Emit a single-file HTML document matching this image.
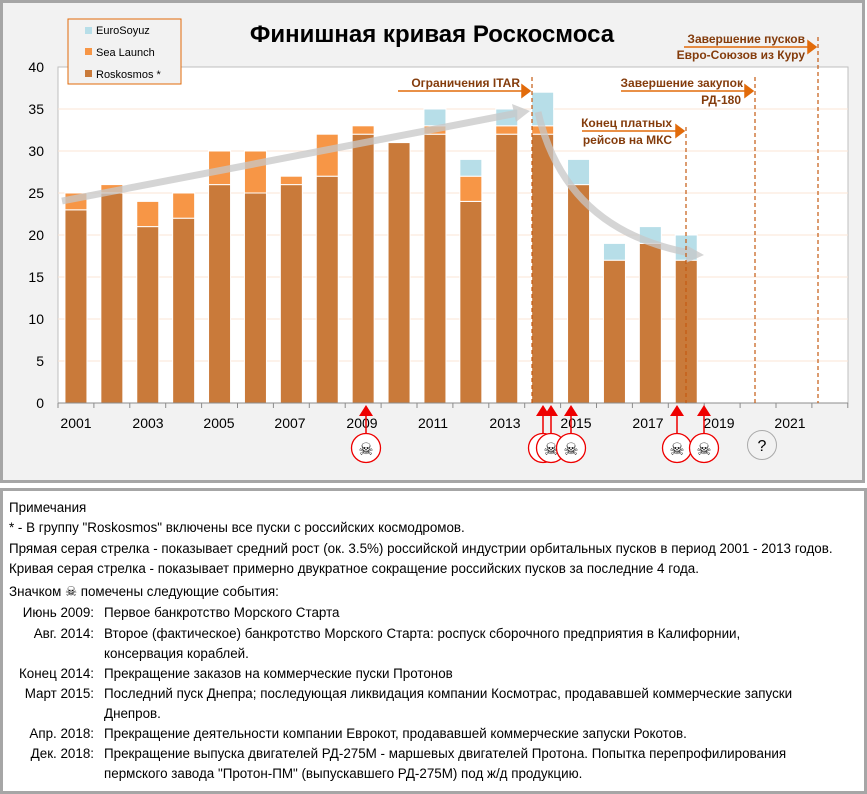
<!DOCTYPE html>
<html><head><meta charset="utf-8"><style>
body{margin:0;width:867px;height:794px;background:#fff;font-family:"Liberation Sans",sans-serif;position:relative;overflow:hidden}
#notes{position:absolute;left:0;top:488px;width:861px;height:300px;border:3px solid #a6a6a6;background:#fff;font-size:13.4px;color:#000}
#notes div{position:absolute;white-space:nowrap}
.r{text-align:right;width:91px;left:0}
.t{left:101px}
</style></head><body>
<svg width="867" height="484" style="position:absolute;left:0;top:0" font-family="Liberation Sans, sans-serif">
<rect x="1.5" y="1.5" width="862" height="480" fill="#f2f2f2" stroke="#a6a6a6" stroke-width="3"/>
<rect x="58" y="67" width="790" height="336" fill="#fff" stroke="#bfbfbf"/>
<g stroke="#fbe5d6" stroke-width="1">
<line x1="58" x2="848" y1="109" y2="109"/><line x1="58" x2="848" y1="151" y2="151"/><line x1="58" x2="848" y1="193" y2="193"/><line x1="58" x2="848" y1="235" y2="235"/><line x1="58" x2="848" y1="277" y2="277"/><line x1="58" x2="848" y1="319" y2="319"/><line x1="58" x2="848" y1="361" y2="361"/>
</g>
<g font-size="14" text-anchor="end" fill="#000">
<text x="44" y="72">40</text><text x="44" y="114">35</text><text x="44" y="156">30</text><text x="44" y="198">25</text><text x="44" y="240">20</text><text x="44" y="282">15</text><text x="44" y="324">10</text><text x="44" y="366">5</text><text x="44" y="408">0</text>
</g>
<g id="bars"></g>
<line x1="58" x2="848" y1="403" y2="403" stroke="#8c8c8c"/>
<g id="ticks" stroke="#8c8c8c"></g>
<g font-size="14" text-anchor="middle" fill="#000">
<text x="76" y="428">2001</text><text x="148" y="428">2003</text><text x="219" y="428">2005</text><text x="290" y="428">2007</text><text x="362" y="428">2009</text><text x="433" y="428">2011</text><text x="505" y="428">2013</text><text x="576" y="428">2015</text><text x="648" y="428">2017</text><text x="719" y="428">2019</text><text x="790" y="428">2021</text>
</g>
<g opacity="0.75">
<line x1="62" y1="201" x2="518" y2="113" stroke="#c8c8c8" stroke-width="7"/>
<polygon points="530,111 512,104 516,122" fill="#c8c8c8"/>
<path d="M538 112 Q565 230 690 253" fill="none" stroke="#c8c8c8" stroke-width="7"/>
<polygon points="704,255 686,245 686,263" fill="#c8c8c8"/>
</g>
<g stroke="#c55a11" stroke-dasharray="4,3" stroke-width="1.2">
<line x1="532" x2="532" y1="77" y2="403"/><line x1="686" x2="686" y1="127" y2="403"/><line x1="755" x2="755" y1="77" y2="403"/><line x1="818" x2="818" y1="37" y2="403"/>
</g>
<g stroke="#e26b0a" stroke-width="1.5" fill="#e26b0a">
<line x1="398" x2="522" y1="91" y2="91"/><polygon points="530,91 522,85 522,97"/>
<line x1="621" x2="745" y1="91" y2="91"/><polygon points="753,91 745,85 745,97"/>
<line x1="582" x2="676" y1="131" y2="131"/><polygon points="684,131 676,125 676,137"/>
<line x1="684" x2="808" y1="47" y2="47"/><polygon points="816,47 808,41 808,53"/>
</g>
<g font-size="12" font-weight="bold" fill="#843c0c" text-anchor="end">
<text x="520" y="87">Ограничения ITAR</text>
<text x="743" y="87">Завершение закупок</text><text x="741" y="104">РД-180</text>
<text x="672" y="127">Конец платных</text><text x="672" y="144">рейсов на МКС</text>
<text x="805" y="43">Завершение пусков</text><text x="805" y="59">Евро-Союзов из Куру</text>
</g>
<text x="432" y="42" font-size="24" font-weight="bold" text-anchor="middle" fill="#000">Финишная кривая Роскосмоса</text>
<rect x="68" y="19" width="113" height="65" fill="#f2f2f2" stroke="#e26b0a"/>
<rect x="85" y="27" width="7" height="7" fill="#b7dee8"/><text x="96" y="34" font-size="11">EuroSoyuz</text>
<rect x="85" y="48" width="7" height="7" fill="#f79646"/><text x="96" y="56" font-size="11">Sea Launch</text>
<rect x="85" y="70" width="7" height="7" fill="#c97a3a"/><text x="96" y="78" font-size="11">Roskosmos *</text>
<g id="skulls"></g>
</svg>
<div id="notes">
<div style="left:6px;top:9px">Примечания</div>
<div style="left:6px;top:29px">* - В группу "Roskosmos" включены все пуски с российских космодромов.</div>
<div style="left:6px;top:50px">Прямая серая стрелка - показывает средний рост (ок. 3.5%) российской индустрии орбитальных пусков в период 2001 - 2013 годов.</div>
<div style="left:6px;top:70px">Кривая серая стрелка - показывает примерно двукратное сокращение российских пусков за последние 4 года.</div>
<div style="left:6px;top:93px">Значком ☠ помечены следующие события:</div>
<div class="r" style="top:114px">Июнь 2009:</div><div class="t" style="top:114px">Первое банкротство Морского Старта</div>
<div class="r" style="top:135px">Авг. 2014:</div><div class="t" style="top:135px">Второе (фактическое) банкротство Морского Старта: роспуск сборочного предприятия в Калифорнии,</div>
<div class="t" style="top:155px">консервация кораблей.</div>
<div class="r" style="top:175px">Конец 2014:</div><div class="t" style="top:175px">Прекращение заказов на коммерческие пуски Протонов</div>
<div class="r" style="top:195px">Март 2015:</div><div class="t" style="top:195px">Последний пуск Днепра; последующая ликвидация компании Космотрас, продававшей коммерческие запуски</div>
<div class="t" style="top:215px">Днепров.</div>
<div class="r" style="top:235px">Апр. 2018:</div><div class="t" style="top:235px">Прекращение деятельности компании Еврокот, продававшей коммерческие запуски Рокотов.</div>
<div class="r" style="top:255px">Дек. 2018:</div><div class="t" style="top:255px">Прекращение выпуска двигателей РД-275М - маршевых двигателей Протона. Попытка перепрофилирования</div>
<div class="t" style="top:275px">пермского завода "Протон-ПМ" (выпускавшего РД-275М) под ж/д продукцию.</div>
</div>
<script>
var d=[[23,2,0],[25,1,0],[21,3,0],[22,3,0],[26,4,0],[25,5,0],[26,1,0],[27,5,0],[32,1,0],[31,0,0],[32,1,2],[24,3,2],[32,1,2],[32,1,4],[26,0,3],[17,0,2],[19,0,2],[17,0,3]];
var g=document.getElementById('bars'),s="";
var u=8.4,w=35.9,x0=58;
d.forEach(function(v,i){var cx=x0+w*(i+0.5),bx=cx-11,y=403;
var cols=["#c97a3a","#f79646","#b7dee8"];
for(var k=0;k<3;k++){if(!v[k])continue;var h=v[k]*u;y-=h;s+='<rect x="'+bx+'" y="'+y+'" width="22" height="'+h+'" fill="'+cols[k]+'" stroke="#fff" stroke-width="1"/>';}
});
g.innerHTML=s;
var t="";for(var i=0;i<=22;i++){var x=x0+w*i;t+='<line x1="'+x+'" x2="'+x+'" y1="403" y2="408"/>';}
document.getElementById('ticks').innerHTML=t;
var sk="",pos=[366,543,551,571,677,704];
pos.forEach(function(x){sk+='<line x1="'+x+'" x2="'+x+'" y1="415" y2="436" stroke="#e00" stroke-width="1.5"/><polygon points="'+x+',405 '+(x-7)+',416 '+(x+7)+',416" fill="#e00"/>';});
pos.forEach(function(x){sk+='<circle cx="'+x+'" cy="448" r="14.5" fill="#fff" stroke="#e00" stroke-width="1.3"/><text x="'+x+'" y="455" font-size="17" text-anchor="middle" font-family="DejaVu Sans">☠</text>';});
sk+='<circle cx="762" cy="445" r="14.5" fill="#f2f2f2" stroke="#aaa"/><text x="762" y="451" font-size="16" text-anchor="middle">?</text>';
document.getElementById('skulls').innerHTML=sk;
</script>
</body></html>
